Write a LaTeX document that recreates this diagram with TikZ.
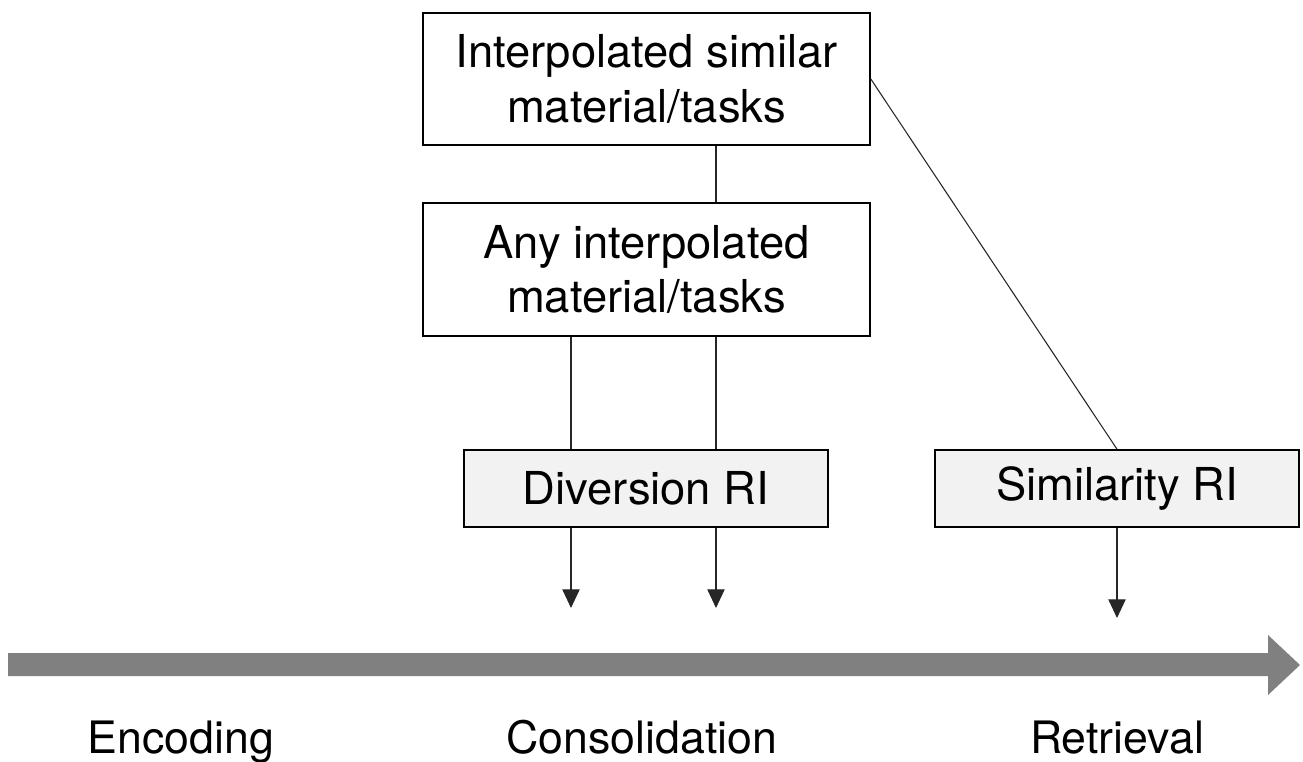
\documentclass[tikz,border=0pt]{standalone}
\usepackage{fontspec}
\setmainfont{TeX Gyre Heros}
\usetikzlibrary{arrows.meta}
\definecolor{boxfill}{HTML}{F2F2F2}
\definecolor{timeline}{HTML}{808080}
\tikzset{
  box/.style={draw=black, line width=1.2pt, fill=white, align=center, inner sep=0pt,
    font=\fontsize{34}{41}\selectfont},
  ribox/.style={box, fill=boxfill},
  conn/.style={draw=black!85, line width=0.8pt},
  arr/.style={conn, -{Triangle[length=14pt, width=13pt]}},
  lbl/.style={anchor=base, inner sep=0pt, font=\fontsize{33.5}{41}\selectfont},
}
\begin{document}
\begin{tikzpicture}[x=0.75pt, y=-0.75pt]
\useasboundingbox (0,0) rectangle (1303,762);
\node[box, minimum width=447*0.75pt, minimum height=132*0.75pt] (sim1) at (646.5,79) {Interpolated similar\\material/tasks};
\node[box, minimum width=447*0.75pt, minimum height=133*0.75pt] (any) at (646.5,269.5) {Any interpolated\\material/tasks};
\node[ribox, minimum width=364*0.75pt, minimum height=77*0.75pt] (div) at (646,488.5) {Diversion RI};
\node[ribox, minimum width=364*0.75pt, minimum height=77*0.75pt] (simri) at (1117,488.5) {Similarity RI};
\coordinate (xa) at (571,0);
\coordinate (xb) at (716,0);
\coordinate (ta) at (571,608);
\coordinate (tb) at (716,608);
\coordinate (tc) at (1117,618);
\draw[conn] (sim1.south -| xb) -- (any.north -| xb);
\draw[conn] (any.south -| xa) -- (div.north -| xa);
\draw[conn] (any.south -| xb) -- (div.north -| xb);
\draw[conn] (sim1.east) -- (simri.north);
\draw[arr] (div.south -| ta) -- (ta);
\draw[arr] (div.south -| tb) -- (tb);
\draw[arr] (simri.south) -- (tc);
\fill[timeline] (8,653) -- (1268,653) -- (1268,635) -- (1300,665) -- (1268,695) -- (1268,676) -- (8,676) -- cycle;
\node[lbl] (enc) at (181,753) {Encoding};
\node[lbl] (cons) at (642,753) {Consolidation};
\node[lbl] (ret) at (1117,753) {Retrieval};
\end{tikzpicture}
\end{document}
